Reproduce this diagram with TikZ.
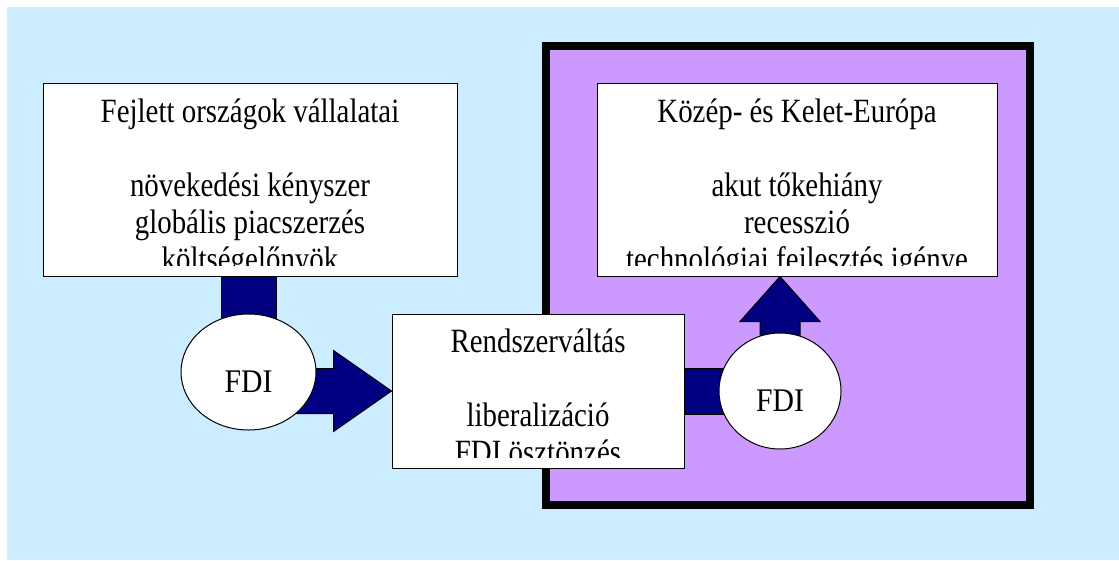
\documentclass[tikz,border=0pt]{standalone}
\usepackage{fontspec}
\setmainfont{Liberation Serif}
\usetikzlibrary{calc,shapes.geometric}
\pgfdeclarelayer{back}
\pgfdeclarelayer{shafts}
\pgfsetlayers{back,shafts,main}
\definecolor{skyfill}{HTML}{CCECFF}
\definecolor{lilac}{HTML}{CC99FF}
\definecolor{fdinavy}{HTML}{000080}
\newcommand{\boxlines}[1]{\scalebox{0.85}[1]{\fontsize{34}{37}\selectfont\begin{tabular}{@{}c@{}}#1\end{tabular}}}

\begin{document}
\begin{tikzpicture}[x=1pt, y=-1pt,
  box/.style={draw, fill=white, line width=1pt, inner sep=0pt},
  boxtext/.style={anchor=north, inner sep=0pt},
  fdi/.style={ellipse, draw, fill=white, line width=1pt, inner sep=0pt,
    minimum height=116pt, text height=40pt, text depth=0pt},
  block/.style={draw, fill=fdinavy, line width=1pt, line join=miter}
]
\useasboundingbox (0,0) rectangle (1119,560);

\node[box, minimum width=414pt, minimum height=193pt] (west) at (250,179.5) {};
\node[box, minimum width=400pt, minimum height=193pt] (east) at (797,179.5) {};
\node[box, minimum width=292pt, minimum height=154pt] (mid) at (538,391) {};
\node[fdi, minimum width=135pt] (fdiA) at (248.5,372) {\scalebox{0.9}[1]{\fontsize{33}{37}\selectfont FDI}};
\node[fdi, minimum width=122pt] (fdiB) at (780,391) {\scalebox{0.9}[1]{\fontsize{33}{37}\selectfont FDI}};

\begin{scope}
  \clip ($(west.south west)+(0,-11)$) rectangle (west.north east);
  \node[boxtext] (westtext) at ($(west.north)+(0,14)$)
    {\boxlines{Fejlett országok vállalatai\\[37pt]növekedési kényszer\\globális piacszerzés\\költségelőnyök}};
\end{scope}
\begin{scope}
  \clip ($(east.south west)+(0,-11)$) rectangle (east.north east);
  \node[boxtext] (easttext) at ($(east.north)+(0,14)$)
    {\boxlines{Közép- és Kelet-Európa\\[37pt]akut tőkehiány\\recesszió\\technológiai fejlesztés igénye}};
\end{scope}
\begin{scope}
  \clip ($(mid.south west)+(0,-11)$) rectangle (mid.north east);
  \node[boxtext] (midtext) at ($(mid.north)+(0,13)$)
    {\boxlines{Rendszerváltás\\[37pt]liberalizáció\\FDI ösztönzés}};
\end{scope}

\begin{pgfonlayer}{back}
  \fill[skyfill] (7,7) rectangle (1119,560);
  \draw[fill=lilac, line width=7.5pt] (546,46) rectangle (1030,505);
\end{pgfonlayer}

\begin{pgfonlayer}{shafts}
  \draw[block] ($(fdiA.center)+(-27.5,0)$) rectangle ($(fdiA.center |- west.south)+(27.5,0)$);
  \draw[block] (mid.west) -- ++(-58,-40.5) -- ++(0,18) -- ++(-100,0) -- ++(0,45)
    -- ++(100,0) -- ++(0,18) -- cycle;
  \draw[block] ($(mid.east)+(0,-23)$) rectangle ($(fdiB.center)+(0,23)$);
  \draw[block] (fdiB.center |- east.south) -- ++(-40,45) -- ++(20,0) -- ++(0,80)
    -- ++(40,0) -- ++(0,-80) -- ++(20,0) -- cycle;
\end{pgfonlayer}
\end{tikzpicture}
\end{document}
